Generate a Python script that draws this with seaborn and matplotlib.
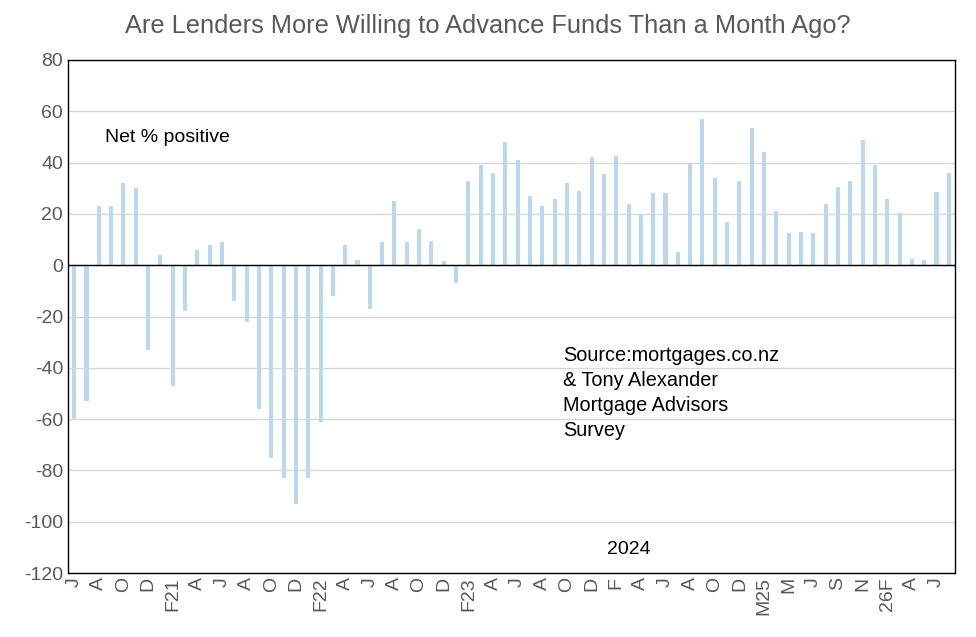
import numpy as np
import pandas as pd
import matplotlib
matplotlib.use("Agg")
import matplotlib.pyplot as plt
import seaborn as sns

# net % positive, one value per survey
values = [-60, -53, 23, 23, 32, 30, -33, 4, -47, -18, 6, 8,
          9, -14, -22, -56, -75, -83, -93, -83, -61, -12, 8, 2,
          -17, 9, 25, 9, 14, 9.5, 1.5, -7, 33, 39, 36, 48,
          41, 27, 23, 26, 32, 29, 42, 35.5, 42.5, 24, 20, 28,
          28, 5, 40, 57, 34, 17, 33, 53.5, 44, 21, 12.5, 13,
          12.5, 24, 30.5, 33, 49, 39, 26, 20.5, 2.5, 2, 28.5, 36]
tick_labels = ["J", "A", "O", "D", "F21", "A", "J", "A", "O", "D", "F22", "A",
               "J", "A", "O", "D", "F23", "A", "J", "A", "O", "D", "F", "A",
               "J", "A", "O", "D", "M25", "M", "J", "S", "N", "26F", "A", "J"]

df = pd.DataFrame({"idx": np.arange(len(values)), "val": values})

sns.set_style("white")
plt.rcParams['font.family'] = ['Liberation Sans', 'DejaVu Sans']
plt.rcParams['axes.unicode_minus'] = False

fig = plt.figure(figsize=(9.76, 6.37), dpi=100)
ax = fig.add_axes([68/976, 1-573/637, (955-68)/976, (573-60)/637])
sns.barplot(data=df, x="idx", y="val", color="#BDD7EE", saturation=1,
            width=0.33, linewidth=0, ax=ax)

ax.set_ylim(-120, 80)
ax.set_yticks(range(-120, 81, 20))
ax.set_xlim(-0.5, len(values) - 0.5)
ax.set_xticks(np.arange(0, len(values), 2))
ax.set_xticklabels(tick_labels, rotation=90, fontsize=14, color="#595959")
ax.tick_params(axis="y", labelsize=14, labelcolor="#595959", length=0)
ax.tick_params(axis="x", length=0, pad=3)
ax.yaxis.grid(True, color="#D9D9D9", linewidth=1)
ax.set_axisbelow(True)
ax.axhline(0, color="black", linewidth=1)
for s in ax.spines.values():
    s.set_visible(True)
    s.set_color("black")
    s.set_linewidth(1)
ax.set_xlabel("")
ax.set_ylabel("")

fig.text(0.5, 1-26/637, "Are Lenders More Willing to Advance Funds Than a Month Ago?",
         ha="center", va="center", fontsize=18.3, color="#595959")
ax.text(0.042, 0.848, "Net % positive", transform=ax.transAxes,
        fontsize=14, va="center", color="black")
ax.text(0.558, 0.350, "Source:mortgages.co.nz\n& Tony Alexander\nMortgage Advisors\nSurvey",
        transform=ax.transAxes, fontsize=14.3, va="center", linespacing=1.4, color="black")
ax.text(0.632, 0.045, "2024", transform=ax.transAxes, fontsize=14, ha="center",
        va="center", color="black")

fig.savefig("out.png", dpi=100)
